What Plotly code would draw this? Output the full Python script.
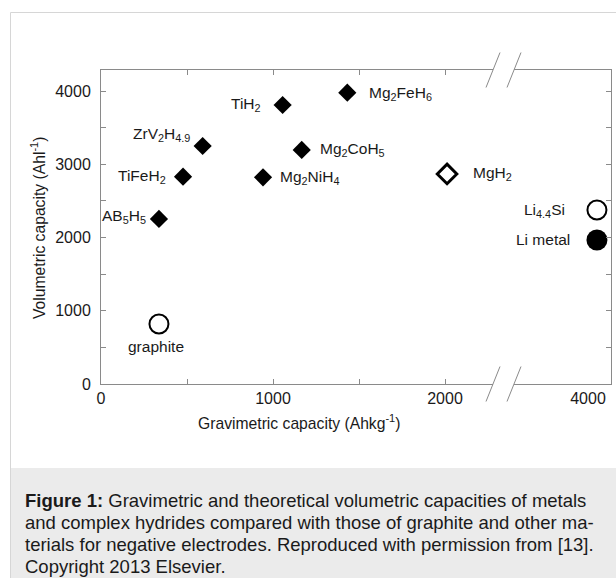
import plotly.graph_objects as go

# ---- data -------------------------------------------------------------
hydride_names = ["AB<sub>5</sub>H<sub>5</sub>", "TiFeH<sub>2</sub>", "ZrV<sub>2</sub>H<sub>4.9</sub>",
                 "TiH<sub>2</sub>", "Mg<sub>2</sub>NiH<sub>4</sub>", "Mg<sub>2</sub>CoH<sub>5</sub>",
                 "Mg<sub>2</sub>FeH<sub>6</sub>"]
hydride_grav = [337, 477, 591, 1056, 942, 1167, 1432]
hydride_vol = [2253, 2830, 3249, 3809, 2822, 3195, 3977]

mgh2_name = "MgH<sub>2</sub>"
mgh2_grav = [2012]
mgh2_vol = [2867]

graphite_name = "graphite"
graphite_grav = [337]
graphite_vol = [819]

li_names = ["Li<sub>4.4</sub>Si", "Li metal"]
li_grav = [4052, 4052]
li_vol = [2375, 1966]

y_ticks = [0, 500, 1000, 1500, 2000, 2500, 3000, 3500, 4000]
y_ticktext = ["0", "", "1000", "", "2000", "", "3000", "", "4000"]
x_ticks = [0, 500, 1000, 1500, 2000]
x_ticktext = ["0", "", "1000", "", "2000"]
x2_ticks = [4000]
x2_ticktext = ["4000"]

caption_lines = [
    "<b>Figure 1:</b> Gravimetric and theoretical volumetric capacities of metals",
    "and complex hydrides compared with those of graphite and other ma-",
    "terials for negative electrodes. Reproduced with permission from [13].",
    "Copyright 2013 Elsevier.",
]

# ---- layout geometry (pixels) -----------------------------------------
W, H = 616, 578
L, R, T, B = 101, 5, 70, 194
PW = W - L - R
PH = H - T - B
BREAK_L, BREAK_R = 493, 514          # ends of the two x-axis segments
PX_PER_X = 0.172                     # pixels per Ahkg-1
PX_PER_Y = 0.07325                   # pixels per Ahl-1


def px(x):
    return (x - L) / PW


def py(y):
    return (H - B - y) / PH


FONT = "Liberation Sans, Arial, sans-serif"
TXT = "#1a1a1a"
AX = "#8a8a8a"
LABEL_SIZE = 15.5
TICK_SIZE = 16
TITLE_SIZE = 15.7
CAPTION_SIZE = 18.5

fig = go.Figure()

fig.add_trace(go.Scatter(x=hydride_grav, y=hydride_vol, mode="markers",
                         marker=dict(symbol="diamond", size=14, color="black"),
                         xaxis="x", yaxis="y", hoverinfo="skip"))
fig.add_trace(go.Scatter(x=mgh2_grav, y=mgh2_vol, mode="markers",
                         marker=dict(symbol="diamond-open", size=15, color="black",
                                     line=dict(width=3, color="black")),
                         xaxis="x", yaxis="y", hoverinfo="skip"))
fig.add_trace(go.Scatter(x=graphite_grav, y=graphite_vol, mode="markers",
                         marker=dict(symbol="circle-open", size=19, color="black",
                                     line=dict(width=2, color="black")),
                         xaxis="x", yaxis="y", hoverinfo="skip"))
fig.add_trace(go.Scatter(x=li_grav[:1], y=li_vol[:1], mode="markers",
                         marker=dict(symbol="circle-open", size=19, color="black",
                                     line=dict(width=2, color="black")),
                         xaxis="x2", yaxis="y2", hoverinfo="skip"))
fig.add_trace(go.Scatter(x=li_grav[1:], y=li_vol[1:], mode="markers",
                         marker=dict(symbol="circle", size=21, color="black"),
                         xaxis="x2", yaxis="y2", hoverinfo="skip"))

# ---- point labels -----------------------------------------------------
label_style = {
    "AB<sub>5</sub>H<sub>5</sub>": ("right", -11, 2),
    "TiFeH<sub>2</sub>": ("right", -15, 0),
    "ZrV<sub>2</sub>H<sub>4.9</sub>": ("right", -11, 12),
    "TiH<sub>2</sub>": ("right", -20, 0),
    "Mg<sub>2</sub>NiH<sub>4</sub>": ("left", 15, 0),
    "Mg<sub>2</sub>CoH<sub>5</sub>": ("left", 16, 0),
    "Mg<sub>2</sub>FeH<sub>6</sub>": ("left", 20, -1),
}
label_font = dict(size=LABEL_SIZE, color=TXT, family=FONT)
annotations = []
for name, gx, vy in zip(hydride_names, hydride_grav, hydride_vol):
    anchor, dx, dy = label_style[name]
    annotations.append(dict(x=gx, y=vy, xref="x", yref="y", text=name, showarrow=False,
                            xanchor=anchor, yanchor="middle", xshift=dx, yshift=dy,
                            font=label_font))
annotations.append(dict(x=mgh2_grav[0], y=mgh2_vol[0], xref="x", yref="y", text=mgh2_name,
                        showarrow=False, xanchor="left", yanchor="middle", xshift=24,
                        font=label_font))
annotations.append(dict(x=graphite_grav[0], y=graphite_vol[0], xref="x", yref="y",
                        text=graphite_name, showarrow=False, xanchor="center",
                        yanchor="middle", xshift=-3, yshift=-22, font=label_font))
for name, gx, vy, dx in zip(li_names, li_grav, li_vol, [-30, -25]):
    annotations.append(dict(x=gx, y=vy, xref="x2", yref="y2", text=name, showarrow=False,
                            xanchor="right", yanchor="middle", xshift=dx, font=label_font))

# axis titles
title_font = dict(size=TITLE_SIZE, color=TXT, family=FONT)
annotations.append(dict(x=px(299), y=py(422), xref="paper", yref="paper",
                        text="Gravimetric capacity (Ahkg<sup>-1</sup>)", showarrow=False,
                        xanchor="center", yanchor="middle", font=title_font))
annotations.append(dict(x=px(38), y=py(228), xref="paper", yref="paper",
                        text="Volumetric capacity (Ahl<sup>-1</sup>)", showarrow=False,
                        textangle=-90, xanchor="center", yanchor="middle", font=title_font))

# caption
for i, line in enumerate(caption_lines):
    annotations.append(dict(x=px(23), y=py(500 + 22 * i), xref="paper", yref="paper",
                            text=line, showarrow=False, xanchor="left", yanchor="middle",
                            font=dict(size=CAPTION_SIZE, color=TXT, family=FONT)))

# ---- frame, caption panel and axis-break marks --------------------------
shapes = [
    dict(type="rect", xref="paper", yref="paper", x0=px(10), x1=px(660),
         y0=py(468), y1=py(640), fillcolor="#ebebeb", line=dict(width=0), layer="below"),
    dict(type="rect", xref="paper", yref="paper", x0=px(10.5), x1=px(660),
         y0=py(640), y1=py(12.5), line=dict(color="#d6d6d6", width=1), layer="below"),
]
for cx in (BREAK_L, BREAK_R):
    for cy in (T, H - B):
        shapes.append(dict(type="line", xref="paper", yref="paper",
                           x0=px(cx - 7), y0=py(cy + 17.5), x1=px(cx + 7), y1=py(cy - 17.5),
                           line=dict(color=AX, width=1)))

x_span_left = (BREAK_L - L) / PX_PER_X
x2_lo = 4000 - (588 - BREAK_R) / PX_PER_X
x2_hi = 4000 + (W - R - 588) / PX_PER_X
y_top = PH / PX_PER_Y

tick_font = dict(size=TICK_SIZE, color=TXT, family=FONT)
fig.update_layout(
    width=W, height=H,
    margin=dict(l=L, r=R, t=T, b=B, pad=0),
    paper_bgcolor="white", plot_bgcolor="white",
    showlegend=False,
    font=dict(family=FONT, color=TXT),
    xaxis=dict(domain=[0, px(BREAK_L)], range=[0, x_span_left], anchor="y",
               tickmode="array", tickvals=x_ticks, ticktext=x_ticktext,
               ticks="inside", ticklen=5, tickcolor=AX, tickfont=tick_font,
               showline=True, linecolor=AX, linewidth=1, mirror="allticks",
               showgrid=False, zeroline=False),
    xaxis2=dict(domain=[px(BREAK_R), 1], range=[x2_lo, x2_hi], anchor="y2",
                tickmode="array", tickvals=x2_ticks, ticktext=x2_ticktext,
                ticks="", tickfont=tick_font,
                showline=True, linecolor=AX, linewidth=1, mirror=True,
                showgrid=False, zeroline=False),
    yaxis=dict(range=[0, y_top], anchor="x",
               tickmode="array", tickvals=y_ticks, ticktext=y_ticktext,
               ticks="inside", ticklen=5, tickcolor=AX, tickfont=tick_font,
               ticklabelstandoff=6,
               showline=True, linecolor=AX, linewidth=1, mirror=False,
               showgrid=False, zeroline=False),
    yaxis2=dict(range=[0, y_top], anchor="x2", side="right", matches="y",
                tickmode="array", tickvals=y_ticks, ticktext=y_ticktext,
                ticks="inside", ticklen=5, tickcolor=AX, showticklabels=False,
                showline=True, linecolor=AX, linewidth=1, mirror=False,
                showgrid=False, zeroline=False),
    annotations=annotations,
    shapes=shapes,
)

fig.write_html("out.html")
